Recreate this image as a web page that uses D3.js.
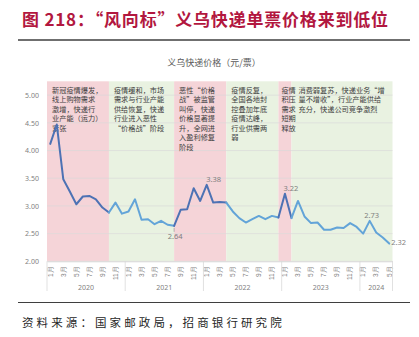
<!DOCTYPE html>
<html><head><meta charset="utf-8">
<script src="https://cdn.jsdelivr.net/npm/d3@7/dist/d3.min.js"></script>
<style>
body{margin:0;background:#fff;}
svg{display:block;font-family:"Noto Sans CJK SC","Noto Sans",sans-serif;}
</style>
</head><body>
<svg id="c" width="419" height="337"></svg>
<script>
// ---------- data ----------
const title = "图 218：“风向标”义乌快递单票价格来到低位";
const chartTitle = "义乌快递价格（元/票）";
const source = "资料来源：国家邮政局，招商银行研究院";
const years = ["2020","2021","2022","2023","2024"];
const categories = [
 "2020-01","2020-02","2020-03","2020-04","2020-05","2020-06","2020-07","2020-08","2020-09","2020-10","2020-11","2020-12",
 "2021-01","2021-02","2021-03","2021-04","2021-05","2021-06","2021-07","2021-08","2021-09","2021-10","2021-11","2021-12",
 "2022-01","2022-02","2022-03","2022-04","2022-05","2022-06","2022-07","2022-08","2022-09","2022-10","2022-11","2022-12",
 "2023-01","2023-02","2023-03","2023-04","2023-05","2023-06","2023-07","2023-08","2023-09","2023-10","2023-11","2023-12",
 "2024-01","2024-02","2024-03","2024-04","2024-05"];
const prices = [
 4.12,4.47,3.48,3.26,3.03,3.17,3.18,3.12,2.97,2.88,3.06,2.86,
 2.90,3.12,2.75,2.76,2.67,2.73,2.66,2.64,2.93,2.94,3.32,3.09,
 3.38,3.06,3.07,3.06,2.90,2.78,2.70,2.76,2.82,2.76,2.82,2.79,
 3.22,2.78,3.09,2.81,2.69,2.70,2.57,2.57,2.61,2.60,2.69,2.62,
 2.50,2.73,2.52,2.43,2.32];
const yTicks = [2.00,2.50,3.00,3.50,4.00,4.50,5.00];
const tickMonths = ["1月","3月","5月","7月","9月","11月"];
const phaseFrom = ["2020-01","2020-10","2021-08","2022-04","2022-12","2023-02"];
const phaseTo   = ["2020-10","2021-08","2022-04","2022-12","2023-02","2024-05"];
const phaseKind = ["hot","calm","hot","calm","hot","calm"];
const phaseText = [
 ["新冠疫情爆发，","线上购物需求","激增，快递行","业产能（运力）","紧张"],
 ["疫情缓和，市场","需求与行业产能","供给恢复，快递","行业进入恶性","“价格战”阶段"],
 ["恶性“价格","战”被监管","叫停，快递","价格显著提","升，全网进","入盈利修复","阶段"],
 ["疫情反复，","全国各地封","控叠加年底","疫情达峰，","行业供需两","弱"],
 ["疫情","积压","需求","短期","释放"],
 ["消费弱复苏，快递业务“增","量不增收”，行业产能供给","充分，快递公司竞争激烈"]
];
const labelled = ["2021-08","2022-01","2023-01","2024-02","2024-05"];

// ---------- layout ----------
const svg = d3.select("#c");
const plot = {left:47, right:392.5, top:81.3, bottom:261.3};
const bandFill = {hot:"#f5d4d8", calm:"#e9f2e1"};
const lineCol = {hot:"#4d72b4", calm:"#63a4d8"};
const textPad = [5,5,5,5,3,7];

const x = d3.scaleBand().domain(categories).range([plot.left, plot.right]).padding(0);
const cx = c => x(c) + x.bandwidth()/2;
const y = d3.scaleLinear().domain([2, 5.25]).range([plot.bottom, plot.top]);
const idx = c => categories.indexOf(c);

// title
svg.append("text").attr("x",22).attr("y",26)
  .attr("font-size",17).attr("font-weight","bold").attr("fill","#b2173f")
  .attr("letter-spacing",0.8).text(title);
svg.append("line").attr("x1",18).attr("x2",410).attr("y1",40).attr("y2",40)
  .attr("stroke","#3f3f3f").attr("stroke-width",1.5);

svg.append("text").attr("x",214).attr("y",66).attr("text-anchor","middle")
  .attr("font-size",9).attr("fill","#595959").text(chartTitle);

// bands
phaseFrom.forEach((f,i)=>{
  const x0 = i===0 ? plot.left : cx(f);
  const x1 = i===phaseFrom.length-1 ? plot.right : cx(phaseTo[i]);
  svg.append("rect").attr("x",x0).attr("y",plot.top).attr("width",x1-x0)
    .attr("height",plot.bottom-plot.top).attr("fill",bandFill[phaseKind[i]]);
});

// gridlines
svg.append("g").selectAll("line").data(yTicks).join("line")
  .attr("x1",plot.left).attr("x2",plot.right)
  .attr("y1",d=>y(d)).attr("y2",d=>y(d))
  .attr("stroke","#d9d9d9").attr("stroke-opacity",0.8).attr("stroke-width",0.8);

// y axis labels
const yAxis = d3.axisLeft(y).tickValues(yTicks).tickFormat(d3.format(".2f")).tickSize(0).tickPadding(8);
const gy = svg.append("g").attr("transform",`translate(${plot.left},0)`).call(yAxis);
gy.select(".domain").remove();
gy.selectAll("text").attr("font-size",7).attr("fill","#7f7f7f").attr("font-family","'Noto Sans',sans-serif");

// x axis
const xAxis = d3.axisBottom(x).tickSize(0).tickPadding(0)
  .tickValues(categories.filter(c=>(+c.slice(5))%2===1))
  .tickFormat(c=>tickMonths[(+c.slice(5)-1)/2]);
const gx = svg.append("g").attr("transform",`translate(0,${plot.bottom})`).call(xAxis);
gx.select(".domain").attr("stroke","#d9d9d9");
gx.selectAll(".tick text").attr("font-size",6.5).attr("fill","#7f7f7f")
  .attr("text-anchor","end").attr("dy","0.35em")
  .attr("transform","translate(0,5) rotate(-90)");

// year separators and labels
const yearEdges = [plot.left].concat(years.slice(1).map(yr=>x(yr+"-01")), [plot.right]);
svg.append("g").selectAll("line").data(yearEdges).join("line")
  .attr("x1",d=>d).attr("x2",d=>d).attr("y1",plot.bottom).attr("y2",291)
  .attr("stroke","#d9d9d9").attr("stroke-width",0.8);
svg.append("g").selectAll("text").data(years).join("text")
  .attr("x",(yr,i)=>(yearEdges[i]+yearEdges[i+1])/2).attr("y",290)
  .attr("text-anchor","middle").attr("font-size",7).attr("fill","#7f7f7f")
  .attr("font-family","'Noto Sans',sans-serif").text(d=>d);

// annotation texts
phaseText.forEach((lines,i)=>{
  const x0 = i===0 ? plot.left : cx(phaseFrom[i]);
  const t = svg.append("text").attr("font-size",7.2).attr("fill","#404040");
  lines.forEach((s,k)=>{
    t.append("tspan").attr("x",x0+textPad[i]).attr("y",92.5+k*9.5).text(s);
  });
});

// line segments
const line = d3.line().x(d=>cx(d)).y(d=>y(prices[idx(d)]));
phaseFrom.forEach((f,i)=>{
  const seg = categories.slice(idx(f), idx(phaseTo[i])+1);
  svg.append("path").datum(seg).attr("d",line).attr("fill","none")
    .attr("stroke",lineCol[phaseKind[i]]).attr("stroke-width",2)
    .attr("stroke-linejoin","round").attr("stroke-linecap","round");
});

// data labels
const lblOffset = {"2021-08":[1,11,"middle"],"2022-01":[7,-5,"middle"],"2023-01":[6,-5,"middle"],"2024-02":[2,-5,"middle"],"2024-05":[2,-1,"start"]};
labelled.forEach(c=>{
  const px = cx(c), py = y(prices[idx(c)]);
  const o = lblOffset[c];
  if (c==="2021-08") {
    svg.append("line").attr("x1",px).attr("x2",px).attr("y1",py+2).attr("y2",py+6)
      .attr("stroke","#8c8c8c").attr("stroke-width",0.6);
  }
  svg.append("text").attr("x",px+o[0]).attr("y",py+o[1]).attr("dy","0.35em")
    .attr("text-anchor",o[2]).attr("font-size",7.5).attr("fill","#7f7f7f")
    .attr("font-family","'Noto Sans',sans-serif").text(d3.format(".2f")(prices[idx(c)]));
});

// bottom rule and source
svg.append("line").attr("x1",18).attr("x2",410).attr("y1",302.5).attr("y2",302.5)
  .attr("stroke","#3f3f3f").attr("stroke-width",1.2);
svg.append("text").attr("x",22).attr("y",327).attr("font-size",11.5)
  .attr("letter-spacing",3.1).attr("fill","#262626").text(source);
</script>
</body></html>
